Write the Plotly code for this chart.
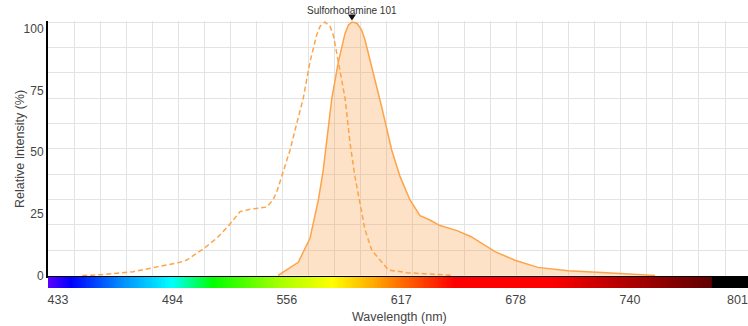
import numpy as np
import plotly.graph_objects as go

# Sulforhodamine 101 spectra: wavelength (nm) and relative intensity (%)
dye_name = "Sulforhodamine 101"

ex_wavelength = [446.0, 448.7, 455.5, 473.4, 484.1, 498.4, 502.0, 510.9, 518.1, 524.3,
                 530.6, 535.9, 544.9, 548.4, 550.3, 554.7, 557.4, 560.1, 564.5, 568.1,
                 571.7, 573.5, 576.1, 578.8, 580.6, 583.3, 586.9, 589.6, 592.2, 594.9,
                 597.6, 601.2, 605.6, 610.1, 620.0, 632.5, 645.0]
ex_intensity = [0.0, 0.1, 0.3, 1.5, 3.2, 5.2, 6.1, 10.5, 14.7, 19.5,
                25.2, 26.1, 27.0, 30.0, 33.0, 42.9, 49.5, 57.4, 69.9, 84.3,
                94.9, 98.3, 100.0, 98.3, 94.9, 84.3, 69.9, 52.1, 39.0, 28.5,
                18.0, 10.0, 6.1, 2.2, 1.1, 0.6, 0.0]

em_wavelength = [551.0, 561.8, 568.1, 572.6, 575.2, 577.9, 579.8, 583.3, 586.9, 588.7,
                 590.6, 593.3, 595.8, 597.6, 601.9, 606.7, 611.9, 616.4, 621.7, 627.1,
                 632.4, 637.8, 646.9, 654.5, 667.3, 678.0, 690.3, 706.4, 724.6, 739.7,
                 753.1]
em_intensity = [0.0, 5.2, 14.7, 29.8, 41.6, 57.4, 69.9, 84.3, 95.5, 98.8,
                100.0, 99.5, 96.8, 92.9, 80.4, 66.0, 49.5, 39.0, 29.8, 23.6,
                21.9, 19.7, 17.7, 15.3, 9.4, 6.0, 3.2, 1.9, 1.2, 0.7,
                0.0]

x_tick_labels = ["433", "494", "556", "617", "678", "740", "801"]
y_tick_labels = ["0", "25", "50", "75", "100"]

# colour stops of the visible-spectrum strip under the plot (nm, colour)
spectrum_nm = [427.6, 440, 466, 494, 516, 552, 580, 602, 616, 645, 697, 722, 783, 784, 803]
spectrum_colors = ["#5a00ff", "#0000ff", "#0088ff", "#00ffff", "#00ff00", "#a8ff00",
                   "#ffff00", "#ffaa00", "#ff7000", "#ff0000", "#ff0000", "#cc0000",
                   "#600000", "#000000", "#000000"]

W, H = 748, 326
PLOT_LEFT_PX = 48
X_MIN, X_MAX = 427.64, 802.93
Y_MIN, Y_MAX = -0.2, 100.4
px_per_nm = (W - PLOT_LEFT_PX) / (X_MAX - X_MIN)

font_family = "Liberation Sans, Arial, sans-serif"
text_color = "#444444"
grid_color = "#e3e3e3"
line_orange = "rgb(255,163,72)"

fig = go.Figure()

# emission (filled, solid)
fig.add_trace(go.Scatter(
    x=em_wavelength, y=em_intensity, mode="lines",
    line=dict(color=line_orange, width=1.5),
    fill="tozeroy", fillcolor="rgba(250,160,70,0.3)",
    xaxis="x", yaxis="y", showlegend=False, hoverinfo="skip"))

# excitation (dashed)
fig.add_trace(go.Scatter(
    x=ex_wavelength, y=ex_intensity, mode="lines",
    line=dict(color=line_orange, width=1.5, dash="5px,3px"),
    xaxis="x", yaxis="y", showlegend=False, hoverinfo="skip"))

peak_idx = int(np.argmax(em_intensity))
peak_wl = em_wavelength[peak_idx]

# wavelength colour strip
strip_x = np.linspace(X_MIN, X_MAX, 400)
span = X_MAX - X_MIN
colorscale = []
for nm, c in zip(spectrum_nm, spectrum_colors):
    colorscale.append([min(max((nm - X_MIN) / span, 0.0), 1.0), c])
colorscale[0][0] = 0.0
colorscale[-1][0] = 1.0
fig.add_trace(go.Heatmap(
    x=strip_x, y=[0], z=[strip_x], zmin=X_MIN, zmax=X_MAX,
    colorscale=colorscale, showscale=False, hoverinfo="skip",
    xaxis="x2", yaxis="y2"))

plot_left = PLOT_LEFT_PX / W
main_dom = [(H - 276) / H, (H - 21) / H]
strip_dom = [(H - 288) / H, (H - 277) / H]

# evenly spaced wavelength labels; the last one is kept inside the page edge
x_tick_vals = list(np.linspace(433, 801, len(x_tick_labels)))
x_tick_vals[-1] = min(x_tick_vals[-1], X_MAX - 10.5 / px_per_nm)
y_tick_vals = list(np.linspace(0, 97.4, len(y_tick_labels)))

fig.update_layout(
    width=W, height=H,
    margin=dict(l=0, r=0, t=0, b=0, autoexpand=False),
    paper_bgcolor="white", plot_bgcolor="white",
    font=dict(family=font_family, size=12, color=text_color),
    xaxis=dict(
        domain=[plot_left, 1], range=[X_MIN, X_MAX], anchor="y", automargin=False,
        showticklabels=False, ticks="", showgrid=False, zeroline=False,
        showline=True, linecolor="#000000", linewidth=2,
        minor=dict(tickmode="linear", tick0=X_MIN, dtick=13.96,
                   showgrid=True, gridcolor=grid_color, gridwidth=1, ticks=""),
    ),
    yaxis=dict(
        domain=main_dom, range=[Y_MIN, Y_MAX], anchor="x", automargin=False,
        tickmode="array", tickvals=y_tick_vals, ticktext=y_tick_labels,
        ticks="", showgrid=False, zeroline=False,
        showline=True, linecolor="#000000", linewidth=2,
        tickfont=dict(size=12, color=text_color),
        ticklabelstandoff=0,
        minor=dict(tickmode="linear", tick0=0, dtick=10,
                   showgrid=True, gridcolor=grid_color, gridwidth=1, ticks=""),
    ),
    xaxis2=dict(
        domain=[plot_left, 1], range=[X_MIN, X_MAX], anchor="y2", automargin=False,
        tickmode="array", tickvals=x_tick_vals, ticktext=x_tick_labels,
        ticks="", showgrid=False, zeroline=False, showline=False,
        tickfont=dict(size=12.5, color=text_color),
        ticklabelstandoff=2, ticklabeloverflow="allow",
    ),
    yaxis2=dict(domain=strip_dom, range=[-0.5, 0.5], anchor="x2",
                visible=False, automargin=False),
    shapes=[
        # downward marker over the emission maximum
        dict(type="path", xref="x", yref="paper",
             xsizemode="pixel", ysizemode="pixel",
             xanchor=peak_wl, yanchor=(H - 17.5) / H,
             path="M-4,3 L4,3 L0,-3 Z",
             fillcolor="#111111", line=dict(width=0)),
    ],
    annotations=[
        dict(text="Relative Intensity (%)", textangle=-90,
             x=20 / W, y=(H - 149) / H, xref="paper", yref="paper",
             xanchor="center", yanchor="middle", showarrow=False,
             font=dict(size=12.5, color=text_color)),
        dict(text="Wavelength (nm)",
             x=399.5 / W, y=(H - 316.5) / H, xref="paper", yref="paper",
             xanchor="center", yanchor="middle", showarrow=False,
             font=dict(size=12.5, color=text_color)),
        dict(text=dye_name, x=peak_wl, xref="x", y=(H - 10.5) / H, yref="paper",
             xanchor="center", yanchor="middle", showarrow=False,
             font=dict(size=10, color="#333333")),
    ],
)

fig.write_html("out.html")
